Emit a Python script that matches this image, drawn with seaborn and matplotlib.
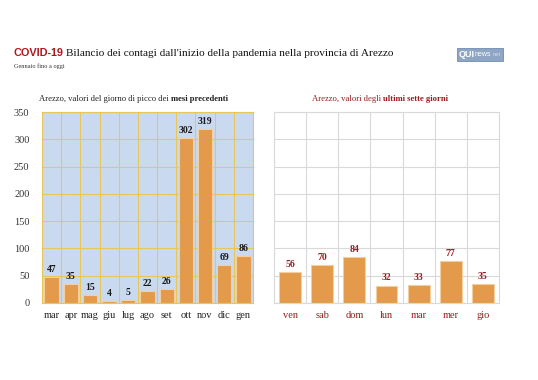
"""COVID-19 Arezzo: peak days per month and last seven days."""

import matplotlib

matplotlib.use("Agg")

import matplotlib.pyplot as plt
import pandas as pd
import seaborn as sns
from matplotlib.patches import Rectangle

MONTHS = ["mar", "apr", "mag", "giu", "lug", "ago", "set", "ott", "nov", "dic", "gen"]
MONTH_PEAKS = [47, 35, 15, 4, 5, 22, 26, 302, 319, 69, 86]

DAYS = ["ven", "sab", "dom", "lun", "mar", "mer", "gio"]
DAY_CASES = [56, 70, 84, 32, 33, 77, 35]

Y_TICKS = [0, 50, 100, 150, 200, 250, 300, 350]

BAR_COLOR = "#e39a4a"
BAR_EDGE = "#f3cfa0"
DARK_RED = "#9b1b1e"
GOLD = "#e8c75a"
LIGHT_BLUE = "#c9daf0"
LIGHT_GRAY = "#d9d9d9"
SANS = ["Liberation Sans", "DejaVu Sans"]

sns.set_theme(style="white")
plt.rcParams["font.family"] = ["Liberation Serif", "DejaVu Serif"]

fig = plt.figure(figsize=(5.38, 3.8), dpi=100)
ax_left = fig.add_axes([42 / 538, 1 - 303 / 380, 211 / 538, 191 / 380])
ax_right = fig.add_axes([274 / 538, 1 - 303 / 380, 225 / 538, 191 / 380])

months_df = pd.DataFrame({"mese": MONTHS, "casi": MONTH_PEAKS})
days_df = pd.DataFrame({"giorno": DAYS, "casi": DAY_CASES})


def style_panel(ax, n, grid_color, face, label_color, show_y):
    ax.set_facecolor(face)
    ax.set_ylim(0, 350)
    ax.set_xlim(-0.5, n - 0.5)
    ax.set_yticks(Y_TICKS)
    ax.set_xticks(range(n), minor=False)
    ax.set_xticks([i + 0.5 for i in range(n - 1)], minor=True)
    ax.grid(True, axis="y", which="major", color=grid_color, linewidth=0.8)
    ax.grid(True, axis="x", which="minor", color=grid_color, linewidth=0.8)
    ax.grid(False, axis="x", which="major")
    ax.set_axisbelow(True)
    for spine in ax.spines.values():
        spine.set_color(grid_color)
        spine.set_linewidth(0.8)
    ax.tick_params(axis="x", which="both", length=0, labelsize=7.5, colors=label_color, pad=6)
    ax.tick_params(axis="y", length=0, labelsize=7.5, colors="#333333", pad=9)
    if not show_y:
        ax.set_yticklabels([])
    ax.set_xlabel("")
    ax.set_ylabel("")


sns.barplot(data=months_df, x="mese", y="casi", ax=ax_left, color=BAR_COLOR,
            width=0.74, edgecolor=BAR_EDGE, linewidth=0.8, saturation=1)
style_panel(ax_left, len(MONTHS), GOLD, LIGHT_BLUE, "#222222", True)
for i, v in enumerate(MONTH_PEAKS):
    ax_left.text(i, v + 6, str(v), ha="center", va="bottom", fontsize=7,
                 fontweight="bold", color="#1a1a1a")

sns.barplot(data=days_df, x="giorno", y="casi", ax=ax_right, color=BAR_COLOR,
            width=0.68, edgecolor=BAR_EDGE, linewidth=0.8, saturation=1)
style_panel(ax_right, len(DAYS), LIGHT_GRAY, "white", DARK_RED, False)
for i, v in enumerate(DAY_CASES):
    ax_right.text(i, v + 6, str(v), ha="center", va="bottom", fontsize=7,
                  fontweight="bold", color=DARK_RED)

ax_left.text(0.61, 1.045, "Arezzo, valori del giorno di picco dei ", transform=ax_left.transAxes,
             ha="right", va="bottom", fontsize=6.2, color="#222222")
ax_left.text(0.61, 1.045, "mesi precedenti", transform=ax_left.transAxes,
             ha="left", va="bottom", fontsize=6.2, fontweight="bold", color="#222222")
ax_right.text(0.485, 1.045, "Arezzo, valori degli ", transform=ax_right.transAxes,
              ha="right", va="bottom", fontsize=6.2, color=DARK_RED)
ax_right.text(0.485, 1.045, "ultimi sette giorni", transform=ax_right.transAxes,
              ha="left", va="bottom", fontsize=6.2, fontweight="bold", color=DARK_RED)

fig.text(14 / 538, 1 - 53 / 380, "COVID-19", fontsize=7.8, fontweight="bold",
         color="#b0161c", family=SANS, va="center")
fig.text(66 / 538, 1 - 53 / 380, "Bilancio dei contagi dall'inizio della pandemia nella provincia di Arezzo",
         fontsize=8.1, color="#111111", va="center")
fig.text(14 / 538, 1 - 66 / 380, "Gennaio fino a oggi", fontsize=4.5, color="#333333", va="center")

fig.patches.append(Rectangle((457 / 538, 1 - 61 / 380), 46 / 538, 13 / 380,
                             transform=fig.transFigure, facecolor="#8ea5c4",
                             edgecolor="#6f8cb3", linewidth=0.6))
fig.text(458.5 / 538, 1 - 54.5 / 380, "QUI", fontsize=6.5, fontweight="bold", color="white",
         family=SANS, va="center")
fig.text(475 / 538, 1 - 55 / 380, "news", fontsize=5, color="white", family=SANS, va="center")
fig.text(493 / 538, 1 - 55 / 380, "net", fontsize=4.4, color="#cfdaea", family=SANS, va="center")

fig.savefig("out.png", dpi=100, facecolor="white")
